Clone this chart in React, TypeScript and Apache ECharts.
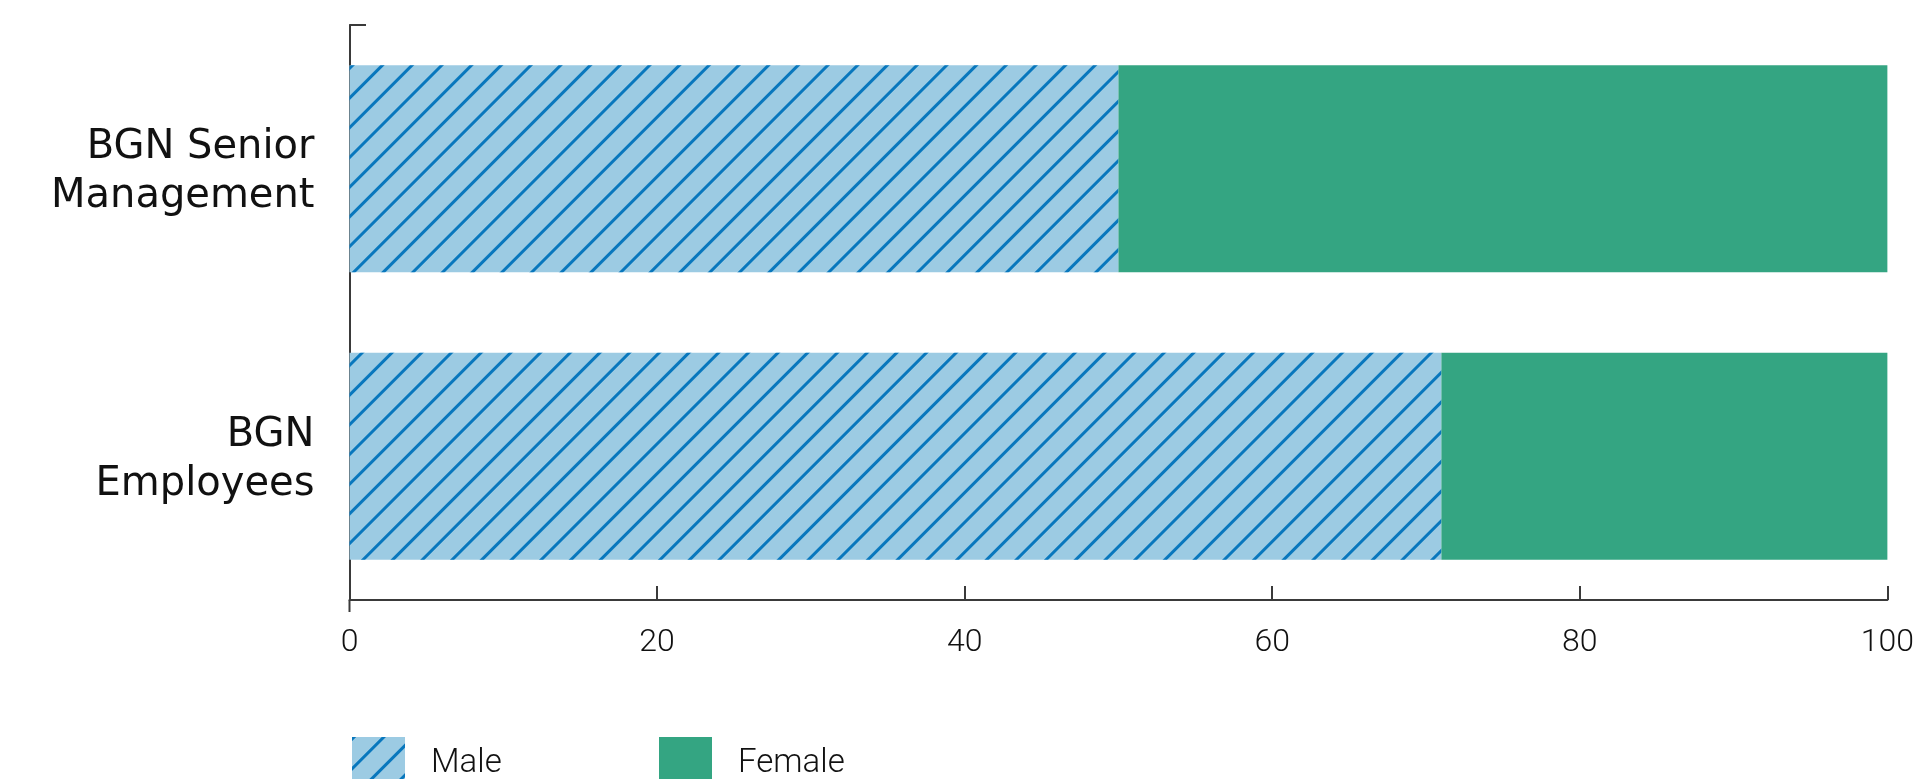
import React, { useEffect, useRef } from "react";
import * as echarts from "echarts";

const categories = ["BGN Senior\nManagement", "BGN\nEmployees"];
const maleValues = [50, 71];
const femaleValues = [50, 29];
const xTicks = [0, 20, 40, 60, 80, 100];
const seriesNames = ["Male", "Female"];

export default function App() {
  const ref = useRef<HTMLDivElement>(null);
  useEffect(() => {
    document.body.style.margin = "0";
    const chart = echarts.init(ref.current!, null, { renderer: "svg" });
    const axisColor = "#3a3a3a";
    const decal = {
      symbol: "rect",
      symbolSize: 1,
      color: "#0877bd",
      dashArrayX: [1, 0],
      dashArrayY: [2.4, 17.6],
      rotation: -Math.PI / 4,
    };
    const legendText = {
      fontSize: 33,
      lineHeight: 34,
      fontFamily: "Roboto",
      fontWeight: 300,
      color: "#111",
      padding: [0, 0, 0, 21],
    };
    chart.setOption({
      animation: false,
      grid: { left: 349.5, right: 18, top: 25, bottom: 179, containLabel: false },
      xAxis: {
        type: "value",
        min: xTicks[0],
        max: xTicks[xTicks.length - 1],
        interval: 20,
        splitLine: { show: false },
        axisLine: { show: true, lineStyle: { color: axisColor, width: 2 } },
        axisTick: { show: true, inside: true, length: 14, lineStyle: { color: axisColor, width: 2 } },
        axisLabel: {
          margin: 24,
          fontSize: 32,
          fontFamily: "Roboto",
          fontWeight: 300,
          color: "#111",
          showMaxLabel: true,
          showMinLabel: true,
        },
      },
      yAxis: {
        type: "category",
        inverse: true,
        data: categories,
        axisLine: { show: true, lineStyle: { color: axisColor, width: 2 } },
        axisTick: { show: false },
        axisLabel: {
          margin: 35,
          fontSize: 40,
          lineHeight: 49,
          fontFamily: "DejaVu Sans",
          fontWeight: 400,
          color: "#111",
          align: "right",
        },
      },
      legend: [
        {
          data: [seriesNames[0]],
          left: 347,
          top: 732,
          itemWidth: 53,
          itemHeight: 47,
          icon: "rect",
          textStyle: legendText,
        },
        {
          data: [seriesNames[1]],
          left: 654,
          top: 732,
          itemWidth: 53,
          itemHeight: 47,
          icon: "rect",
          textStyle: legendText,
        },
      ],
      graphic: [
        { type: "line", shape: { x1: 349.5, y1: 25, x2: 366, y2: 25 }, style: { stroke: axisColor, lineWidth: 2 } },
        { type: "line", shape: { x1: 349.5, y1: 600, x2: 349.5, y2: 612 }, style: { stroke: axisColor, lineWidth: 2 } },
      ],
      series: [
        {
          name: seriesNames[0],
          type: "bar",
          stack: "total",
          data: maleValues,
          barCategoryGap: "28%",
          itemStyle: { color: "#9ccbe3", decal },
        },
        {
          name: seriesNames[1],
          type: "bar",
          stack: "total",
          data: femaleValues,
          barCategoryGap: "28%",
          itemStyle: { color: "#34a582" },
        },
      ],
    });
    return () => chart.dispose();
  }, []);
  return <div ref={ref} style={{ position: "fixed", left: 0, top: 0, width: 1917, height: 779 }} />;
}
